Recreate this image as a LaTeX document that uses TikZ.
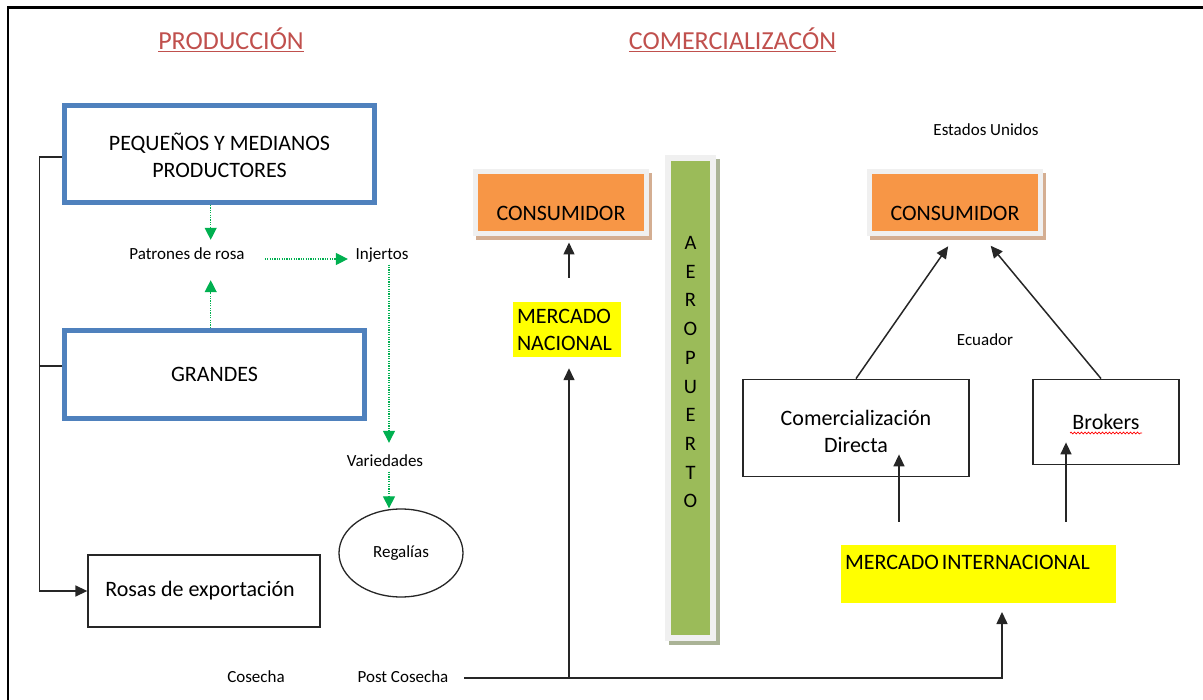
\documentclass[tikz,border=0pt]{standalone}
\usepackage{fontspec}
\setmainfont{Carlito}
\usetikzlibrary{arrows.meta,shapes.geometric,decorations.pathmorphing,calc}
\definecolor{blueB}{HTML}{4F81BD}
\definecolor{orangeF}{HTML}{F79646}
\definecolor{frameG}{HTML}{F0F0F0}
\definecolor{tanS}{HTML}{D4AE92}
\definecolor{greenF}{HTML}{9BBB59}
\definecolor{greenS}{HTML}{AAB396}
\definecolor{yellowF}{HTML}{FFFF00}
\definecolor{greenA}{HTML}{00B050}
\definecolor{redT}{HTML}{C0504D}
\newcommand\fbig{\fontsize{22}{27}\selectfont}
\newcommand\fsml{\fontsize{17}{20}\selectfont}
\newcommand\fttl{\fontsize{26}{30}\selectfont}
\begin{document}
\begin{tikzpicture}[x=1pt,y=-1pt,
  bluebox/.style={rectangle, draw=blueB, line width=5pt, inner sep=0pt, font=\fbig},
  plainbox/.style={rectangle, draw=black!85, line width=1.3pt, inner sep=0pt, font=\fbig},
  consbox/.style={rectangle, fill=orangeF, draw=frameG, line width=5pt, minimum width=171pt, minimum height=62pt, inner sep=0pt, font=\fbig,
     preaction={fill=tanS, draw=tanS, transform canvas={shift={(3pt,-4pt)}}}},
  barbox/.style={rectangle, fill=greenF, draw=frameG, line width=6pt, minimum width=45pt, minimum height=480pt, inner sep=0pt, font=\fontsize{20.5}{28.7}\selectfont,
     preaction={fill=greenS, draw=greenS, transform canvas={shift={(3.5pt,-4pt)}}}},
  ylw/.style={rectangle, fill=yellowF, inner sep=4pt, font=\fbig, align=left},
  smalltxt/.style={font=\fsml, inner sep=2pt, text height=12pt, text depth=3pt},
  ttl/.style={font=\fttl, text=redT},
  garr/.style={draw=greenA, line width=1.2pt, dash pattern=on 1.2pt off 1.2pt, -{Triangle[width=12pt,length=12pt]}},
  barr/.style={draw=black!85, line width=1.5pt, -{Triangle[width=11pt,length=12pt]}},
  bline/.style={draw=black!85, line width=1.5pt}
]
\useasboundingbox (0,0) rectangle (1203,700);
\draw[line width=2.5pt] (8,700) -- (8,7.5) -- (1203,7.5);

% titles
\node[ttl] (tprod) at (231,40) {\underline{PRODUCCIÓN}};
\node[ttl] (tcom) at (732.5,40) {\underline{COMERCIALIZACÓN}};

% production side
\node[bluebox, minimum width=310pt, minimum height=97pt] (peq) at (219.5,154)
  {\raisebox{-5pt}[\height][\depth]{\begin{tabular}{@{}c@{}}PEQUEÑOS Y MEDIANOS\\PRODUCTORES\end{tabular}}};
\node[bluebox, minimum width=300pt, minimum height=88pt] (gra) at (214.5,374.5) {GRANDES};
\node[plainbox, minimum width=232pt, minimum height=72pt] (ros) at (204,591) {\hspace*{-8pt}Rosas de exportación};
\node[smalltxt] (patr) at (187,255) {Patrones de rosa};
\node[smalltxt] (inj) at (382,255) {Injertos};
\node[smalltxt] (var) at (385,462) {Variedades};
\node[ellipse, draw=black!85, line width=1.3pt, minimum width=124pt, minimum height=88pt, inner sep=0pt, font=\fsml] (reg) at (401,553) {Regalías};
\node[smalltxt] (cos) at (256,678) {Cosecha};
\node[smalltxt] (post) at (403,678) {Post Cosecha};

\draw[barr] ([yshift=-3pt]peq.west) -- ++(-22.5,0) |- (ros.west);
\draw[bline] ([yshift=8.5pt]gra.west) -- ++(-22.5,0);

\draw[garr, shorten >=5.5pt] ([xshift=-8.8pt]peq.south) -- ([xshift=-8.8pt]peq.south |- patr.north);
\draw[garr, shorten >=15.5pt] ([xshift=-3.8pt]gra.north) -- ([xshift=-3.8pt]gra.north |- patr.south);
\draw[garr, shorten <=18pt, shorten >=5.5pt] ([yshift=-4pt]patr.east) -- ([yshift=-4pt]inj.west);
\draw[garr, shorten >=9.5pt] ([xshift=7pt]inj.south) -- ([xshift=7pt]inj.south |- var.north);
\draw[garr] ([xshift=4pt]var.south) -- ([xshift=4pt]var.south |- reg.north);

% commercial side
\node[consbox] (c1) at (561,203) {\raisebox{-10pt}[\height][\depth]{CONSUMIDOR}};
\node[ylw, text width=100pt, minimum height=55pt] (mn) at (567,329.5) {MERCADO\\NACIONAL};
\node[barbox] (aero) at (690.5,398)
  {\raisebox{25pt}[\height][\depth]{\begin{tabular}{@{}c@{}}A\\E\\R\\O\\P\\U\\E\\R\\T\\O\end{tabular}}};
\node[smalltxt] (eu) at (986,131) {Estados Unidos};
\node[consbox] (c2) at (955,203) {\raisebox{-10pt}[\height][\depth]{CONSUMIDOR}};
\node[smalltxt] (ecu) at (985,341) {Ecuador};
\node[plainbox, minimum width=226pt, minimum height=97.5pt] (cd) at (856,428)
  {\raisebox{-6pt}[\height][\depth]{\begin{tabular}{@{}c@{}}Comercialización\\Directa\end{tabular}}};
\node[plainbox, minimum width=146pt, minimum height=85.5pt] (bro) at (1106,422) {Brokers};
\node[ylw, text width=267pt, minimum height=58pt] (mi) at (978.5,574)
  {\raisebox{12pt}[\height][\depth]{MERCADO\hspace{3pt}INTERNACIONAL}};

\draw[red, line width=0.7pt, decorate, decoration={snake, amplitude=0.9pt, segment length=3.5pt}]
  ([shift={(-36pt,-11pt)}]bro.center) -- ([shift={(36pt,-11pt)}]bro.center);

\draw[barr, shorten >=12pt] (cd.north) -- (c2.south);
\draw[barr, shorten >=12pt] ([xshift=-5pt]bro.north) -- ([xshift=28pt]c2.south);
\draw[barr] ([shift={(-79.5pt,23pt)}]mi.north) -- ([shift={(-79.5pt,23pt)}]mi.north |- cd.south);
\draw[barr] ([shift={(87.5pt,23pt)}]mi.north) -- ([shift={(87.5pt,23pt)}]mi.north |- bro.south);

\coordinate (junc) at (569,678);
\coordinate (mitip) at (1002,612);
\draw[barr, shorten <=13.5pt] (post.east) -- (post.east -| mitip) -- (mitip);
\draw[barr] (junc) -- ([yshift=-11pt]junc |- mn.south);
\draw[barr, shorten <=24pt] (junc |- mn.north) -- ([yshift=-6pt]junc |- c1.south);
\end{tikzpicture}
\end{document}
